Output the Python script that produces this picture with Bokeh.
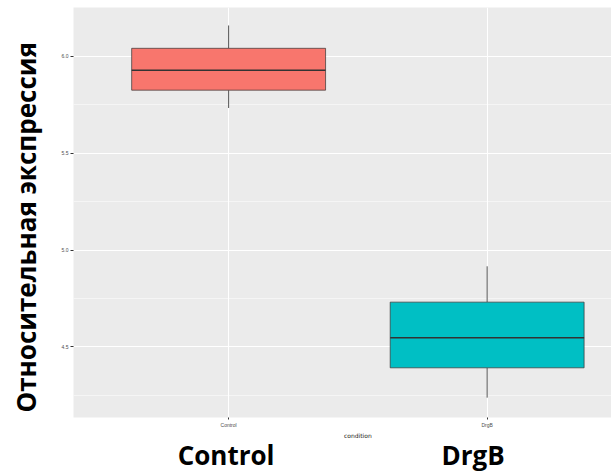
import math
from bokeh.plotting import figure
from bokeh.layouts import row, column
from bokeh.models import Range1d, FixedTicker, ColumnDataSource
from bokeh.core.properties import value
from bokeh.embed import file_html
from bokeh.resources import INLINE

# ---- data ----
categories = ["Control", "DrgB"]
lower_whisker = [5.733, 4.238]
q1 = [5.825, 4.392]
median = [5.928, 4.547]
q3 = [6.041, 4.731]
upper_whisker = [6.159, 4.916]
fill_colors = ["#F8766D", "#00BFC4"]

y_ticks = [4.5, 5.0, 5.5, 6.0]
y_minor_ticks = [4.25, 4.75, 5.25, 5.75]
y_tick_labels = ["4.5", "5.0", "5.5", "6.0"]
x_title = "condition"
y_title = "Относительная экспрессия"

# ---- build ----
xs = [i + 1 for i in range(len(categories))]
box_w = 0.75
src = ColumnDataSource(dict(
    x=xs, cat=categories, lw=lower_whisker, q1=q1, med=median, q3=q3, uw=upper_whisker,
    color=fill_colors,
    x0=[x - box_w / 2 for x in xs], x1=[x + box_w / 2 for x in xs],
))

x_range = Range1d(0.4, 2.481)
p = figure(width=553, height=430, output_backend="svg", toolbar_location=None,
           x_range=x_range, y_range=Range1d(4.1356, 6.2517),
           min_border_left=12, min_border_right=0, min_border_top=7, min_border_bottom=11)
p.background_fill_color = "#EBEBEB"
p.border_fill_color = "white"
p.outline_line_color = None

# whiskers
p.segment(x0="x", y0="q3", x1="x", y1="uw", source=src, line_color="#555555", line_width=1)
p.segment(x0="x", y0="lw", x1="x", y1="q1", source=src, line_color="#555555", line_width=1)
# boxes
p.vbar(x="x", bottom="q1", top="q3", width=box_w, source=src, fill_color="color",
       line_color="#333333", line_width=0.7)
# medians
p.segment(x0="x0", y0="med", x1="x1", y1="med", source=src, line_color="#333333", line_width=1.6)

# axes / grid
p.xaxis.ticker = FixedTicker(ticks=xs, minor_ticks=[])
p.xaxis.major_label_overrides = {x: c for x, c in zip(xs, categories)}
p.yaxis.ticker = FixedTicker(ticks=y_ticks, minor_ticks=y_minor_ticks)
p.yaxis.major_label_overrides = {t: l for t, l in zip(y_ticks, y_tick_labels)}

for ax in (p.xaxis[0], p.yaxis[0]):
    ax.axis_line_color = None
    ax.major_tick_line_color = "#333333"
    ax.major_tick_out = 3
    ax.major_tick_in = 0
    ax.minor_tick_line_color = None
    ax.major_label_text_font_size = "5px"
    ax.major_label_text_color = "#4D4D4D"
    ax.major_label_standoff = 1

p.xaxis.major_tick_out = 2
p.xaxis.major_label_standoff = 2

p.xgrid.grid_line_color = "white"
p.xgrid.grid_line_width = 1.1
p.ygrid.grid_line_color = "white"
p.ygrid.grid_line_width = 1.1
p.ygrid.minor_grid_line_color = "white"
p.ygrid.minor_grid_line_width = 0.5

# ---- x title and big category labels below the plot ----
label_offsets = [-2.5, -14]
bottom = figure(width=553, height=43, output_backend="svg", toolbar_location=None,
                x_range=x_range, y_range=Range1d(0, 43),
                min_border_left=12, min_border_right=0, min_border_top=0, min_border_bottom=0)
bottom.axis.visible = False
bottom.grid.visible = False
bottom.outline_line_color = None
bottom.text(x=[sum(xs) / len(xs)], y=[38], text=[x_title],
            text_align="center", text_baseline="middle",
            text_font=value("DejaVu Sans"), text_font_size="6px", text_color="#222222")
bottom.text(x=xs, y=[19] * len(xs), text=categories, x_offset=label_offsets,
            text_align="center", text_baseline="middle",
            text_font=value("Open Sans"), text_font_style="bold",
            text_font_size="26px", text_color="black")

# ---- big y title on the left ----
left = figure(width=58, height=473, output_backend="svg", toolbar_location=None,
              x_range=Range1d(0, 58), y_range=Range1d(0, 473),
              min_border_left=0, min_border_right=0, min_border_top=0, min_border_bottom=0)
left.axis.visible = False
left.grid.visible = False
left.outline_line_color = None
left.text(x=[25], y=[61], text=[y_title], angle=math.pi / 2,
          text_align="left", text_baseline="middle",
          text_font=value("Open Sans"), text_font_style="bold",
          text_font_size="26px", text_color="black")

layout = row(left, column(p, bottom))

open("out.html", "w").write(file_html(layout, INLINE))
